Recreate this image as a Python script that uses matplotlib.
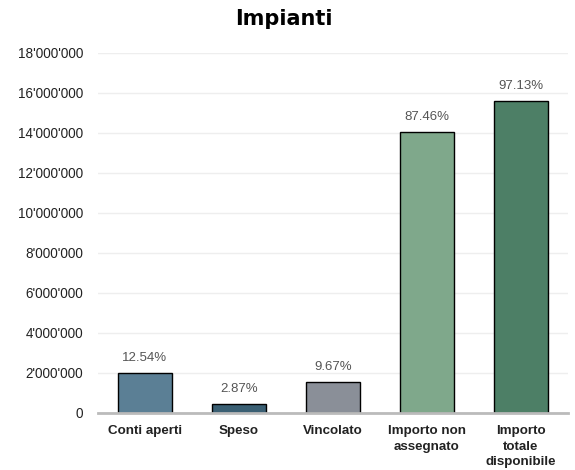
import matplotlib.pyplot as plt
from matplotlib.ticker import FuncFormatter

plt.rcParams['font.family'] = ['Liberation Sans', 'DejaVu Sans']

categories = ['Conti aperti', 'Speso', 'Vincolato', 'Importo non\nassegnato', 'Importo\ntotale\ndisponibile']
values = [2014000, 461000, 1553000, 14050000, 15600000]
percent_labels = ['12.54%', '2.87%', '9.67%', '87.46%', '97.13%']
colors = ['#5b7f95', '#3a5f73', '#8a8f98', '#7fa88b', '#4d7f66']

fig = plt.figure(figsize=(5.75, 4.7), dpi=100)
ax = fig.add_axes([0.1704, 0.1213, 0.8174, 0.766])

x = range(len(categories))
ax.bar(x, values, width=0.57, color=colors, edgecolor='black', linewidth=1, zorder=3)

for i, v in enumerate(values):
    ax.annotate(percent_labels[i], (i, v), xytext=(0, 10.5), textcoords='offset points',
                ha='center', va='center', fontsize=9.5, color='#555555')

ax.set_ylim(0, 18000000)
ax.set_yticks(range(0, 18000001, 2000000))
ax.yaxis.set_major_formatter(FuncFormatter(lambda v, p: f"{int(v):,}".replace(',', "'")))
ax.set_xlim(-0.5, 4.5)
ax.set_xticks(list(x))
ax.set_xticklabels(categories, fontweight='bold', fontsize=9.6, linespacing=1.35)

ax.grid(axis='y', color='#eeeeee', linewidth=1, zorder=0)
for s in ['top', 'right', 'left']:
    ax.spines[s].set_visible(False)
ax.spines['bottom'].set_color('#bbbbbb')
ax.spines['bottom'].set_linewidth(2)
ax.spines['bottom'].set_zorder(4)
ax.tick_params(axis='both', length=0, colors='#222222')
ax.tick_params(axis='y', pad=10.5, labelsize=9.75)
ax.tick_params(axis='x', pad=9)

fig.suptitle('Impianti', fontsize=15, fontweight='bold', x=0.494, y=0.98,
             family=['DejaVu Sans'])
fig.savefig('out.png')
